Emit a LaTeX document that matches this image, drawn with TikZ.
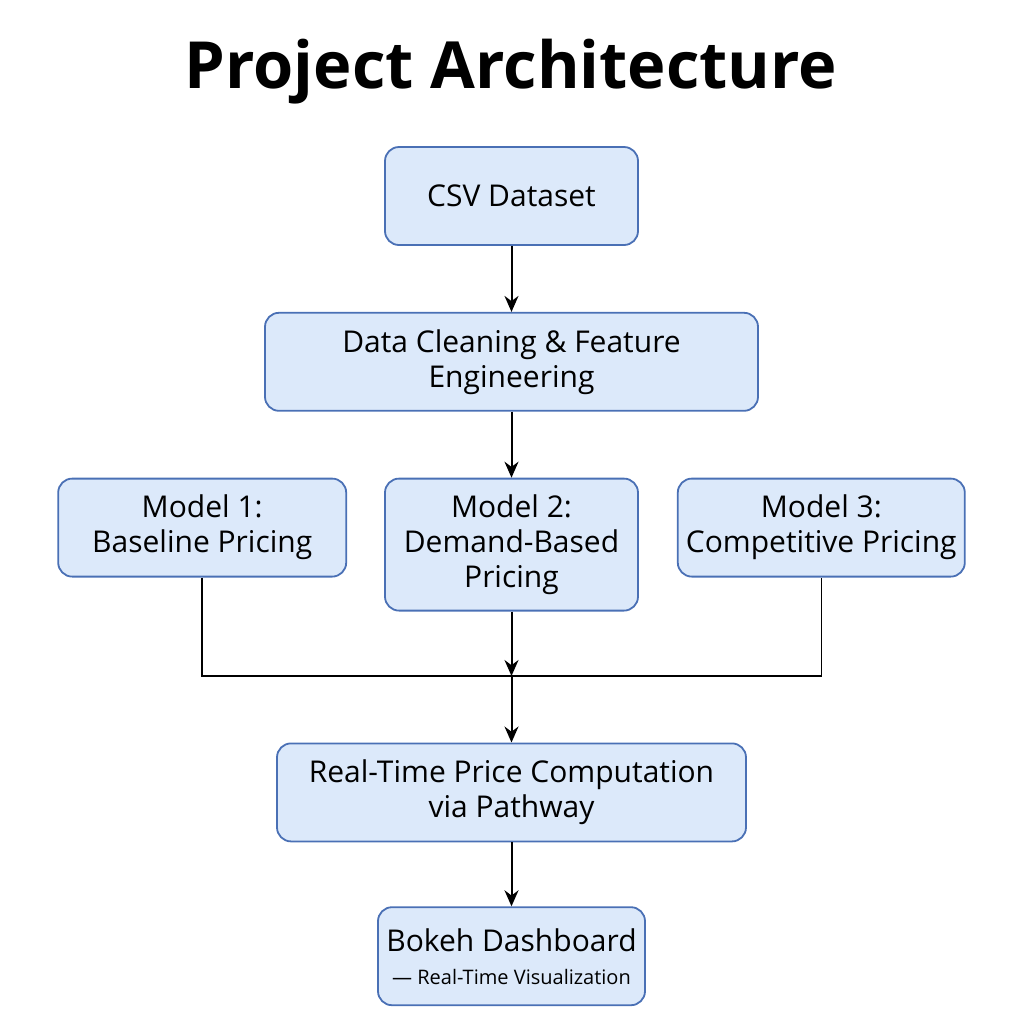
\documentclass[tikz,border=0pt]{standalone}
\usepackage{fontspec}
\setmainfont{Open Sans}
\usetikzlibrary{arrows.meta,positioning}

\begin{document}
\begin{tikzpicture}[
        x=0.5pt, y=-0.5pt,
        node distance=34pt,
        >={Stealth[length=8pt,width=7pt]},
        font=\fontsize{15}{17.5}\selectfont,
        box/.style={draw=boxline, line width=0.9pt, rounded corners=7pt, fill=boxfill,
          align=center, inner sep=2pt, minimum height=49pt},
        link/.style={->, line width=1pt},
        wire/.style={line width=0.8pt}
      ]
      \definecolor{boxfill}{HTML}{DCE9FA}
      \definecolor{boxline}{HTML}{4A70B5}
      \useasboundingbox (0,0) rectangle (1024,1024);

      % --- Title ---
      \node[font=\fontsize{32.5}{38}\selectfont\bfseries] (title) at (511,72) {Project Architecture};

      % --- Main chain ---
      \node[box, minimum width=126.5pt] (csv) at (511.5,196) {CSV Dataset};
      \node[box, minimum width=246.5pt, below=33pt of csv] (clean) {Data Cleaning \& Feature\\Engineering};
      \node[box, minimum width=126.5pt, minimum height=66pt, below=33pt of clean] (m2) {Model 2:\\Demand-Based\\Pricing};
      \node[box, minimum width=144pt, left=18.5pt of m2.north west, anchor=north east] (m1) {Model 1:\\Baseline Pricing};
      \node[box, minimum width=143.5pt, right=19pt of m2.north east, anchor=north west] (m3) {Model 3:\\Competitive Pricing};
      \node[box, minimum width=234.5pt, below=65.5pt of m2] (rt) {Real-Time Price Computation\\via Pathway};
      \node[box, minimum width=133.5pt, below=32pt of rt] (bokeh) {Bokeh Dashboard\\[-1pt]{\fontsize{10}{11}\selectfont --- Real-Time Visualization}};

      % --- Merge point ---
      \coordinate (merge) at (m2.south |- 0,676);

      % --- Arrows ---
      \draw[link] (csv) -- (clean);
      \draw[link] (clean) -- (m2);
      \draw[link] (m2) -- (merge);
      \draw[wire] (m1.south) |- (merge) -| (m3.south);
      \draw[link] (merge) -- (rt);
      \draw[link] (rt) -- (bokeh);

\end{tikzpicture}
\end{document}
